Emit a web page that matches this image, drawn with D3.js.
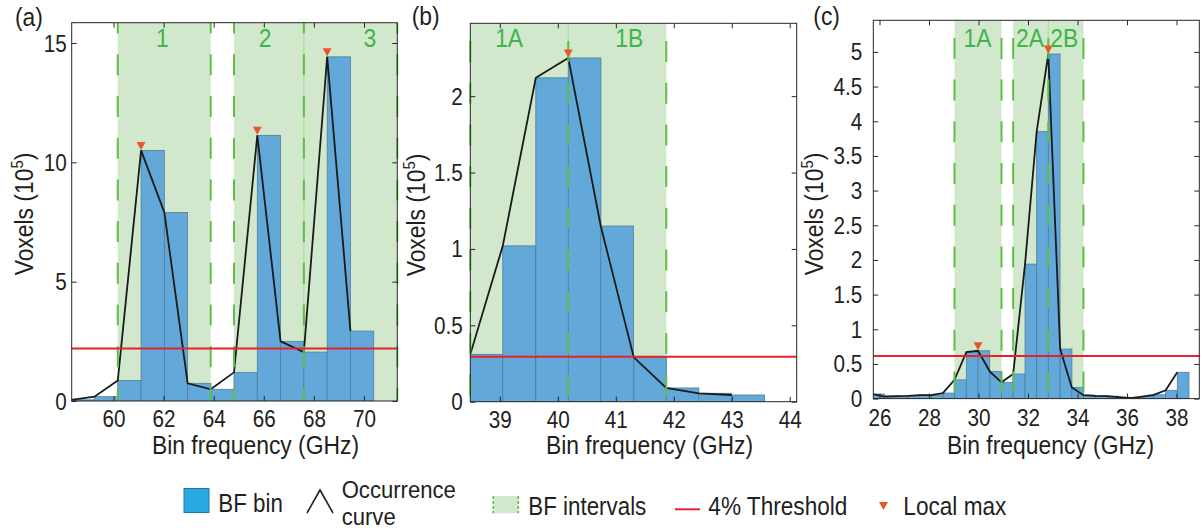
<!DOCTYPE html>
<html><head><meta charset="utf-8">
<script src="https://cdn.jsdelivr.net/npm/d3@7"></script>
<style>body{margin:0;background:#fff}svg{display:block}</style>
</head><body>
<script>
// ---------- DATA ----------
// (a)
const binStartA = [58.31, 59.24, 60.17, 61.10, 62.03, 62.96, 63.88, 64.81, 65.74, 66.67, 67.60, 68.53, 69.46];
const binWidthA = 0.929;
const voxelsA = [0.05, 0.18, 0.86, 10.5, 7.9, 0.74, 0.49, 1.2, 11.13, 2.5, 2.05, 14.42, 2.93];
const intervalsA = [[60.17, 63.88], [64.81, 67.60], [67.60, 71.33]];
const intervalNamesA = ["1", "2", "3"];
const intervalNameFreqA = [61.95, 66.05, 70.23];
const thresholdA = 2.2;
const localMaxA = [3, 8, 11];
const xTicksA = [60, 62, 64, 66, 68, 70];
const yTicksA = [0, 5, 10, 15];
// (b)
const binStartB = [38.49, 39.05, 39.62, 40.18, 40.74, 41.31, 41.87, 42.43, 43.00];
const binWidthB = 0.563;
const voxelsB = [0.31, 1.02, 2.12, 2.25, 1.15, 0.29, 0.09, 0.055, 0.044];
const intervalsB = [[38.49, 40.18], [40.18, 41.87]];
const intervalNamesB = ["1A", "1B"];
const intervalNameFreqB = [39.16, 41.23];
const thresholdB = 0.295;
const localMaxB = [3];
const xTicksB = [39, 40, 41, 42, 43, 44];
const yTicksB = [0, 0.5, 1, 1.5, 2];
// (c)
const binStartC = [25.72, 26.19, 26.67, 27.14, 27.61, 28.09, 28.56, 29.03, 29.51, 29.98, 30.46, 30.93, 31.40, 31.88,
                   32.35, 32.82, 33.30, 33.77, 34.24, 34.72, 35.19, 35.66, 36.14, 36.61, 37.08, 37.56, 38.03];
const binWidthC = 0.4735;
const voxelsC = [0.066, 0.03, 0.035, 0.04, 0.05, 0.05, 0.08, 0.27, 0.67, 0.69, 0.39, 0.235, 0.355, 1.94,
                 3.85, 4.97, 0.715, 0.16, 0.05, 0.04, 0.035, 0.02, 0.005, 0.03, 0.055, 0.12, 0.38];
const intervalsC = [[29.03, 30.93], [31.40, 32.82], [32.82, 34.24]];
const intervalNamesC = ["1A", "2A", "2B"];
const intervalNameFreqC = [29.96, 32.08, 33.46];
const thresholdC = 0.615;
const localMaxC = [9, 15];
const xTicksC = [26, 28, 30, 32, 34, 36, 38];
const yTicksC = [0, 0.5, 1, 1.5, 2, 2.5, 3, 3.5, 4, 4.5, 5];

const panelLetters = ["(a)", "(b)", "(c)"];
const xLabel = "Bin frequency (GHz)";
const yLabel = "Voxels (10";
const legendLabels = ["BF bin", "Occurrence", "curve", "BF intervals", "4% Threshold", "Local max"];

// ---------- STYLE / LAYOUT ----------
const FONT = "'Liberation Sans', Arial, Helvetica, sans-serif";
const TXT = "#231f20";
const BAR = "#62a8d8", BAR_EDGE = "#4f7ea0";
const SHADE = "#d1e8cc", DASH = "#5fbf45", LABEL_GREEN = "#3db54a";
const RED = "#e8202a", MARK = "#e8562a";

const panels = [
  {bins: binStartA, w: binWidthA, v: voxelsA, iv: intervalsA, ivn: intervalNamesA, ivx: intervalNameFreqA,
   thr: thresholdA, lm: localMaxA, xt: xTicksA, yt: yTicksA, xDom: [58.33, 71.33], yDom: [0, 15.85],
   L: 71.7, R: 397.3, T: 22.7, B: 401, yGap: 5, dashOff: 10.1, letter: [15, 26], yLab: [33, 214], xLab: [255.5, 454], nameY: 47},
  {bins: binStartB, w: binWidthB, v: voxelsB, iv: intervalsB, ivn: intervalNamesB, ivx: intervalNameFreqB,
   thr: thresholdB, lm: localMaxB, xt: xTicksB, yt: yTicksB, xDom: [38.49, 44.12], yDom: [0, 2.477],
   L: 470.3, R: 796.7, T: 23.3, B: 401.7, yGap: 7.5, dashOff: 24, letter: [411.7, 24.5], yLab: [425, 215], xLab: [649.5, 454], nameY: 46.7},
  {bins: binStartC, w: binWidthC, v: voxelsC, iv: intervalsC, ivn: intervalNamesC, ivx: intervalNameFreqC,
   thr: thresholdC, lm: localMaxC, xt: xTicksC, yt: yTicksC, xDom: [25.75, 38.92], yDom: [0, 5.456],
   L: 873.3, R: 1199.3, T: 20.3, B: 398.6, yGap: 11, dashOff: 24.1, letter: [813.3, 25], yLab: [823, 214], xLab: [1050.5, 454], nameY: 46.7}
];

const svg = d3.select("body").append("svg").attr("width", 1203).attr("height", 529)
  .style("font-family", FONT);
svg.append("rect").attr("width", 1203).attr("height", 529).attr("fill", "#fff");

function txt(g, x, y, s, size, anchor, sx, fill) {
  return g.append("text").attr("transform", `translate(${x},${y}) scale(${sx},1)`)
    .attr("font-size", size).attr("text-anchor", anchor || "start").attr("fill", fill || TXT).text(s);
}

panels.forEach((p, pi) => {
  const x = d3.scaleLinear().domain(p.xDom).range([p.L, p.R]);
  const y = d3.scaleLinear().domain(p.yDom).range([p.B, p.T]);
  const g = svg.append("g");
  const cid = "clip" + pi;
  g.append("clipPath").attr("id", cid).append("rect")
    .attr("x", p.L).attr("y", p.T).attr("width", p.R - p.L).attr("height", p.B - p.T);
  const pg = g.append("g").attr("clip-path", `url(#${cid})`);

  // interval shading
  pg.selectAll("rect.iv").data(p.iv).join("rect").attr("class", "iv")
    .attr("x", d => x(d[0])).attr("width", d => x(d[1]) - x(d[0]))
    .attr("y", p.T).attr("height", p.B - p.T).attr("fill", SHADE);
  // shared boundaries
  const shared = p.iv.slice(1).filter((d, i) => Math.abs(d[0] - p.iv[i][1]) < 1e-6).map(d => d[0]);
  pg.selectAll("line.sh").data(shared).join("line").attr("class", "sh")
    .attr("x1", d => x(d)).attr("x2", d => x(d)).attr("y1", p.T).attr("y2", p.B)
    .attr("stroke", "#a6d993").attr("stroke-width", 1);

  // bars
  const bins = p.bins.map((b, i) => ({x0: b, x1: b + p.w, v: p.v[i]}));
  pg.selectAll("rect.bar").data(bins).join("rect").attr("class", "bar")
    .attr("x", d => x(d.x0)).attr("width", d => x(d.x1) - x(d.x0))
    .attr("y", d => y(d.v)).attr("height", d => y(0) - y(d.v))
    .attr("fill", BAR).attr("stroke", BAR_EDGE).attr("stroke-width", 0.8);

  // occurrence curve
  const line = d3.line().x(d => x(d.x0)).y(d => y(d.v));
  pg.append("path").datum(bins).attr("d", line).attr("fill", "none")
    .attr("stroke", "#1a1a1a").attr("stroke-width", 1.8).attr("stroke-linejoin", "miter");

  // dashed interval edges
  const edges = Array.from(new Set(p.iv.flat()));
  g.selectAll("line.edge").data(edges).join("line").attr("class", "edge")
    .attr("x1", d => x(d)).attr("x2", d => x(d)).attr("y1", p.T).attr("y2", p.B)
    .attr("stroke", DASH).attr("stroke-width", 2)
    .attr("stroke-dasharray", "21,20.7").attr("stroke-dashoffset", p.dashOff);

  // threshold
  g.append("line").attr("x1", p.L).attr("x2", p.R).attr("y1", y(p.thr)).attr("y2", y(p.thr))
    .attr("stroke", RED).attr("stroke-width", 2);

  // local max markers
  g.selectAll("path.mx").data(p.lm).join("path").attr("class", "mx")
    .attr("d", i => { const cx = x(p.bins[i]), cy = y(p.v[i]) - 0.5;
      return `M${cx - 4.5},${cy - 8}L${cx + 4.5},${cy - 8}L${cx},${cy}Z`; })
    .attr("fill", MARK);

  // interval names
  p.ivn.forEach((n, i) => txt(g, x(p.ivx[i]), p.nameY, n, 26, "middle", 0.88, LABEL_GREEN));

  // axes
  const ax = [
    [d3.axisBottom(x).tickValues(p.xt).tickSize(-5).tickFormat(d3.format("d")), `translate(0,${p.B})`, "b"],
    [d3.axisTop(x).tickValues(p.xt).tickSize(-5).tickFormat(""), `translate(0,${p.T})`, "t"],
    [d3.axisLeft(y).tickValues(p.yt).tickSize(-5).tickFormat(d => d3.format("")(d)), `translate(${p.L},0)`, "l"],
    [d3.axisRight(y).tickValues(p.yt).tickSize(-5).tickFormat(""), `translate(${p.R},0)`, "r"]
  ];
  ax.forEach(([a, tr, side]) => {
    const ag = g.append("g").attr("transform", tr).call(a);
    ag.select(".domain").remove();
    ag.selectAll("line").attr("stroke", "#262626").attr("stroke-width", 1);
    ag.attr("font-family", FONT).attr("font-size", 23);
    if (side === "b") {
      ag.selectAll("text").attr("y", 0).attr("dy", null).attr("fill", TXT)
        .attr("transform", `translate(0,${p.B > 400 ? 26 : 27.4}) scale(0.9,1)`);
    } else if (side === "l") {
      ag.selectAll("text").attr("x", 0).attr("dy", "0.35em").attr("fill", TXT)
        .attr("transform", `translate(${-p.yGap},0) scale(0.9,1)`);
    }
  });

  // frame
  g.append("rect").attr("x", p.L).attr("y", p.T).attr("width", p.R - p.L).attr("height", p.B - p.T)
    .attr("fill", "none").attr("stroke", "#262626").attr("stroke-width", 1);

  // labels
  txt(g, p.letter[0], p.letter[1], panelLetters[pi], 26, "start", 0.88);
  txt(g, p.xLab[0], p.xLab[1], xLabel, 26, "middle", 0.88);
  const yl = g.append("text")
    .attr("transform", `translate(${p.yLab[0]},${p.yLab[1]}) rotate(-90) scale(0.88,1)`)
    .attr("font-size", 26).attr("text-anchor", "middle").attr("fill", TXT);
  yl.append("tspan").text(yLabel);
  yl.append("tspan").attr("font-size", 17).attr("dy", -10).text("5");
  yl.append("tspan").attr("dy", 10).text(")");
});

// ---------- LEGEND ----------
const lg = svg.append("g");
lg.append("rect").attr("x", 184).attr("y", 488.5).attr("width", 25).attr("height", 24)
  .attr("fill", "#29a9e1").attr("stroke", "#1f78a8").attr("stroke-width", 1);
txt(lg, 218.3, 512, legendLabels[0], 26, "start", 0.86);
lg.append("path").attr("d", "M307,513L320,490L333,513").attr("fill", "none")
  .attr("stroke", TXT).attr("stroke-width", 1.6);
txt(lg, 341.7, 498, legendLabels[1], 23, "start", 0.96);
txt(lg, 341.7, 524.5, legendLabels[2], 23, "start", 0.96);
lg.append("rect").attr("x", 493.3).attr("y", 496).attr("width", 25).attr("height", 17.3).attr("fill", SHADE);
[493.3, 518.3].forEach(xx => lg.append("line").attr("x1", xx).attr("x2", xx).attr("y1", 496).attr("y2", 513.3)
  .attr("stroke", DASH).attr("stroke-width", 1.6).attr("stroke-dasharray", "3,2"));
txt(lg, 528.3, 515, legendLabels[3], 26, "start", 0.86);
lg.append("line").attr("x1", 675).attr("x2", 700).attr("y1", 509.3).attr("y2", 509.3)
  .attr("stroke", RED).attr("stroke-width", 2);
txt(lg, 708.3, 515, legendLabels[4], 26, "start", 0.87);
lg.append("path").attr("d", "M879,502L888,502L883.5,510Z").attr("fill", MARK);
txt(lg, 903.3, 515, legendLabels[5], 26, "start", 0.87);
</script>
</body></html>
